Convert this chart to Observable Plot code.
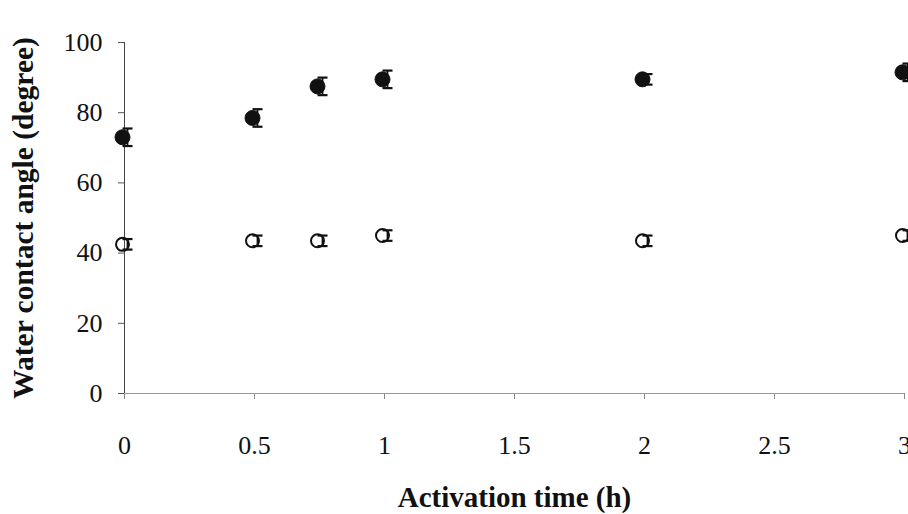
<!DOCTYPE html>
<html>
<head>
<meta charset="utf-8">
<script src="https://cdn.jsdelivr.net/npm/d3@7"></script>
<script src="https://cdn.jsdelivr.net/npm/@observablehq/plot@0.6"></script>
<style>
  html, body { margin: 0; padding: 0; background: #fff; }
  #chart svg { display: block; font-family: 'Liberation Serif', 'Times New Roman', serif !important; }
  #chart svg text { font-family: 'Liberation Serif', 'Times New Roman', serif !important; }
</style>
</head>
<body>
<div id="chart"></div>
<script>
// Data
const times = [0, 0.5, 0.75, 1, 2, 3];
const filledAngle = [73, 78.5, 87.5, 89.5, 89.5, 91.5];
const filledErr = [2.5, 2.5, 2.5, 2.5, 1.5, 2.5];
const openAngle = [42.5, 43.5, 43.5, 45, 43.5, 45];
const openErr = [1.5, 1.5, 1.5, 1.5, 1.5, 1.5];
const xTicks = [0, 0.5, 1, 1.5, 2, 2.5, 3];
const yTicks = [0, 20, 40, 60, 80, 100];

const filled = times.map((t, i) => ({x: t, y: filledAngle[i], e: filledErr[i]}));
const open = times.map((t, i) => ({x: t, y: openAngle[i], e: openErr[i]}));
const all = filled.concat(open);

const capSymbol = {
  draw(ctx, size) {
    const r = Math.sqrt(size / Math.PI);
    ctx.moveTo(-r, 0);
    ctx.lineTo(r, 0);
  }
};

const font = "'Liberation Serif', 'Times New Roman', serif";

const chart = Plot.plot({
  width: 908,
  height: 514,
  marginLeft: 124,
  marginRight: 4,
  marginTop: 42,
  marginBottom: 121,
  style: {fontFamily: font, background: "#fff", color: "#111", overflow: "hidden"},
  x: {domain: [0, 3], ticks: xTicks, tickFormat: d => String(d), label: null},
  y: {domain: [0, 100], ticks: yTicks, label: null},
  marks: [
    Plot.axisY({ticks: yTicks, tickSize: 6, tickPadding: 16, fontSize: 26, fontFamily: font, stroke: "#555", label: null}),
    Plot.axisX({ticks: xTicks, tickSize: 6, tickPadding: 36, fontSize: 26, fontFamily: font, stroke: "#888", label: null, tickFormat: d => String(d)}),
    Plot.ruleX([0], {stroke: "#444", strokeWidth: 1}),
    Plot.ruleY([0], {stroke: "#999", strokeWidth: 1}),
    // error bars
    Plot.link(all, {x1: "x", x2: "x", y1: d => d.y - d.e, y2: d => d.y + d.e, dx: 3, stroke: "#111", strokeWidth: 1.8}),
    Plot.dot(all, {x: "x", y: d => d.y - d.e, dx: 3, r: 5, symbol: capSymbol, stroke: "#111", strokeWidth: 2.2, fill: "none"}),
    Plot.dot(all, {x: "x", y: d => d.y + d.e, dx: 3, r: 5, symbol: capSymbol, stroke: "#111", strokeWidth: 2.2, fill: "none"}),
    // markers
    Plot.dot(filled, {x: "x", y: "y", dx: -2, r: 7.5, fill: "#111", stroke: "#111", strokeWidth: 1}),
    Plot.dot(open, {x: "x", y: "y", dx: -2, r: 6.5, fill: "none", stroke: "#111", strokeWidth: 2}),
    // axis titles
    Plot.text(["Activation time (h)"], {frameAnchor: "bottom", dy: 113, text: d => d, fontSize: 29, fontWeight: "bold", fontFamily: font, fill: "#111", lineAnchor: "bottom"}),
    Plot.text(["Water contact angle (degree)"], {frameAnchor: "left", dx: -101, textAnchor: "middle", text: d => d, rotate: -90, fontSize: 29.5, fontWeight: "bold", fontFamily: font, fill: "#111"})
  ]
});

document.getElementById("chart").appendChild(chart);
</script>
</body>
</html>
